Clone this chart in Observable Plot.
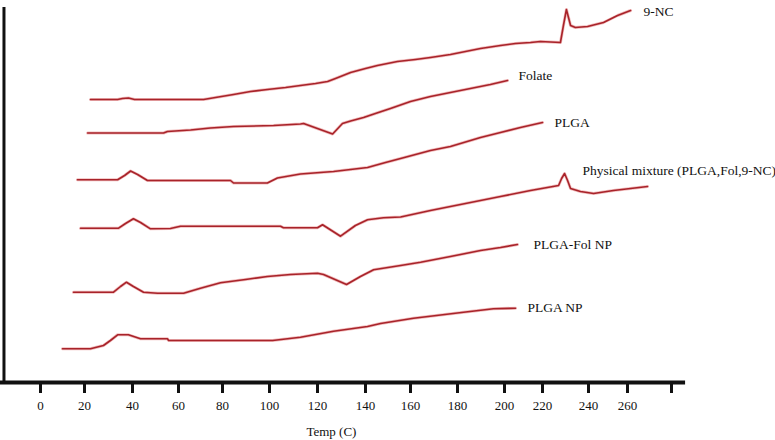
<!DOCTYPE html>
<html><head><meta charset="utf-8">
<script src="https://cdn.jsdelivr.net/npm/d3@7"></script>
<script src="https://cdn.jsdelivr.net/npm/@observablehq/plot@0.6"></script>
<style>
html,body{margin:0;padding:0;background:#fff;}
#chart svg g[aria-label^="x-axis"] path,
#chart svg g[aria-label^="x-axis"] line{stroke-width:3px;stroke:#111;stroke-opacity:1;}
#chart svg g[aria-label^="x-axis"] text{fill:#111;font-family:'Liberation Serif','DejaVu Serif',serif;}
</style></head><body><div id="chart"></div>
<script>
// Series names
const seriesNames = ["9-NC", "Folate", "PLGA", "Physical mixture (PLGA,Fol,9-NC)", "PLGA-Fol NP", "PLGA NP"];

// Temperatures (°C) and heat-flow signal (arbitrary units, curves stacked with offsets)
const nc9T = [22.5,33.8,35.8,38.3,40.9,71.4,76.8,84.7,91.9,99.1,106.7,112.9,119.2,124.2,127.5,133.8,140,145.3,154.2,162.1,168.5,177.0,183.4,189.8,198.3,205.8,213.7,218.9,227.8,229.1,230.4,232.2,234.3,239.6,247.7,254.9,261.4];
const nc9V = [283,283,284,284.5,283,283,285,288,291,293,295,297,299,301,304,310,314,317,321,323,325,328,331,334,337,339,340,341,340,357,373,357,355,356,360,367,372];

const folT = [21.3,53.5,55.2,65.5,74.5,84.7,101.7,112.9,114.2,126.3,130.4,133.8,139.2,144.4,151.1,160,168.5,177.0,185.5,194.0,201.6];
const folV = [249.5,249.5,251,252.5,254.5,256,257,258.5,259,248.5,259,261.5,265,269,274,281,286,290,294,298,302];

const plgaT = [16.8,33.8,36.7,39.2,42.2,46.5,83.4,84.7,99.1,103.3,112.9,126.7,140.9,148.9,155.6,168.5,177.0,189.8,198.3,208.4,220];
const plgaV = [202.7,202.7,207,211.5,208,202,202,199.5,199.5,204.5,208.5,211,215,220,224,232,236,245,250,255,260];

const mixT = [18.2,34.2,37.1,40.4,43.5,47.8,56.5,60.9,104.6,105.8,120,122.1,129.6,135.8,140.9,148,155.6,168.5,177.0,189.8,198.3,213.7,227.0,228.3,229.6,230.9,232.2,236.5,242.6,252.8,261.4,269.1];
const mixV = [154.3,154.3,159,163.7,160,153.7,154,156.3,156.3,154.7,154.7,157.7,146.3,157,162.7,164.7,165.5,172,176,182,186,192,197,204,209,202,194,191,189,192,194,196];

const pfnT = [15.0,32.1,35,37.5,40.4,44.8,50.9,62.3,70,79.1,89.8,99.1,108.8,120,122.5,132.1,137.9,143.6,155.6,164.3,177.0,189.8,198.3,206.8];
const pfnV = [90.3,90.3,96,100.3,96,90.3,89.3,89.3,94.3,99.7,103,106,108,109.3,108,98,106,112.7,117,120.3,126,132,135,138];

const pnpT = [10,22.5,27.9,30.8,33.8,38.3,43.5,55.2,55.7,101.3,112.9,126.7,140.9,146.7,161.3,182.6,195.3,205.8];
const pnpV = [33.7,33.7,37,42,47.7,47.7,43.7,43.7,42,42,45.3,51.3,56,59,64.3,70.3,73.7,74.3];

// Curve label anchors (data units)
const labelT = [267.3, 207.4, 225.2, 237.4, 215.3, 212.1];
const labelV = [371.3, 307, 260, 212, 138, 75];

// X axis ticks
const tickTemps = [0,20,40,60,80,100,120,140,160,180,200,220,240,260,280];
const tickLabels = ["0","20","40","60","80","100","120","140","160","180","200","220","240","260",""];

const xTitle = "Temp (C)";

// Build table
const seriesT = [nc9T, folT, plgaT, mixT, pfnT, pnpT];
const seriesV = [nc9V, folV, plgaV, mixV, pfnV, pnpV];
const rows = [];
seriesNames.forEach((name, i) => {
  seriesT[i].forEach((t, j) => rows.push({series: name, t, v: seriesV[i][j]}));
});
const labels = seriesNames.map((name, i) => ({name, t: labelT[i], v: labelV[i]}));

const serif = "'Liberation Serif', 'DejaVu Serif', serif";

const chart = Plot.plot({
  width: 775,
  height: 440,
  marginTop: 0,
  marginBottom: 58,
  marginLeft: 0,
  marginRight: 0,
  style: {fontFamily: serif, fontSize: "13px", background: "#fff", color: "#111"},
  x: {
    type: "linear",
    domain: tickTemps,
    range: [40,84,132,178,222,269,317,365,410,457,504,542,588,627,671],
    ticks: tickTemps,
    tickFormat: (d) => tickLabels[tickTemps.indexOf(d)],
    tickSize: 11,
    tickPadding: 7,
    label: null
  },
  y: {domain: [0, 382], range: [382, 0], axis: null},
  marks: [
    Plot.ruleX([-16.6], {y1: 0, y2: 375, stroke: "#111", strokeWidth: 3}),
    Plot.ruleY([0], {x1: -18.2, x2: 286.4, stroke: "#111", strokeWidth: 4}),
    Plot.line(rows, {x: "t", y: "v", z: "series", stroke: "#e06a6a", strokeOpacity: 0.45, strokeWidth: 3, strokeLinejoin: "round"}),
    Plot.line(rows, {x: "t", y: "v", z: "series", stroke: "#a8232a", strokeWidth: 1.6, strokeLinejoin: "round"}),
    Plot.text(labels, {x: "t", y: "v", text: "name", textAnchor: "start", lineAnchor: "middle", fontSize: 13.5, fontFamily: serif, fill: "#111"}),
    Plot.text([xTitle], {x: 125.8, y: -49, text: d => d, fontSize: 13, fontFamily: serif, fill: "#111"})
  ]
});
document.getElementById("chart").appendChild(chart);
</script></body></html>
